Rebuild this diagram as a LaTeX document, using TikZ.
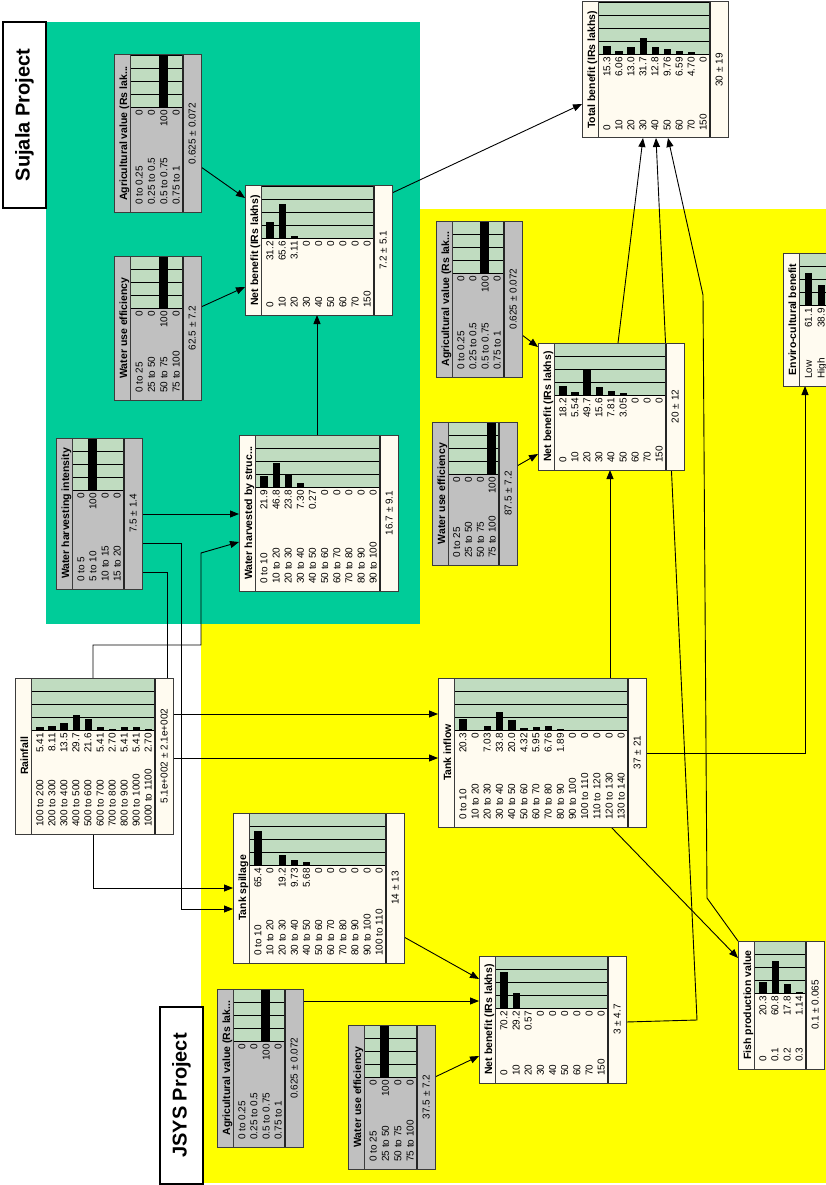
\documentclass[tikz,border=0pt]{standalone}
\usepackage{fontspec}
\setmainfont{Liberation Sans}
\usetikzlibrary{arrows.meta}
\definecolor{sujgreen}{RGB}{0,204,153}
\definecolor{jsyyellow}{RGB}{255,255,0}
\definecolor{nodecream}{RGB}{255,251,240}
\definecolor{nodegrey}{RGB}{192,192,192}
\definecolor{bargreen}{RGB}{192,220,192}
\definecolor{edgegrey}{RGB}{60,60,60}
\pgfdeclarelayer{backlayer}
\pgfdeclarelayer{linklayer}
\pgfsetlayers{backlayer,linklayer,main}
\newcount\nncnt
\tikzset{
  link/.style={line width=0.9pt, -{Triangle[length=9pt,width=7pt]}},
  ntitle/.style={font=\bfseries\fontsize{10.5}{12}\selectfont, inner sep=0pt, anchor=base},
  ntext/.style={font=\fontsize{10}{12}\selectfont, inner sep=0pt},
  projbox/.style={draw=black, line width=1.5pt, fill=white,
    font=\bfseries\fontsize{20}{24}\selectfont, rotate=90, inner sep=0pt},
}
% #1 name, #2 x0, #3 y0, #4 x1, #5 y1, #6 fill, #7 title, #8 states/probs, #9 mean
\newcommand\NN[9]{%
  \pgfmathsetmacro\nnW{#5-#3}%
  \pgfmathsetmacro\nnH{#4-#2}%
  \pgfmathsetmacro\nnub{\nnW-52}%
  \global\nncnt=0
  \foreach \s/\p in {#8}{\global\advance\nncnt by 1}%
  \pgfmathsetmacro\nnr{(\nnH-16.5-18-3)/\the\nncnt}%
  \def\nnbw{7.3}\def\nntmp{#6}\def\nngrey{nodegrey}\ifx\nntmp\nngrey\def\nnbw{9}\fi
  \node[minimum width={\nnH pt}, minimum height={\nnW pt}, inner sep=0pt, outer sep=0pt,
        anchor=north west] (#1) at (#2,#3) {};
  \begin{scope}[shift={(#2,#5)}, rotate=90, transform shape]
    \fill[#6] (0,0) rectangle (\nnW,\nnH);
    \fill[bargreen] (\nnub,16.5) rectangle (\nnW,\nnH-18);
    \foreach \k in {1,2,3}{\draw[line width=0.7pt] (\nnub+\k*13,16.5) -- (\nnub+\k*13,\nnH-18);}
    \foreach \s/\p [count=\i] in {#8}{%
      \pgfmathsetmacro\nne{16.5+\i*\nnr-0.3}%
      \ifdim\p pt>0pt
        \fill (\nnub,\nne+0.4-\nnbw) rectangle (\nnub+\p*0.52,\nne+0.4);
      \fi
      \node[ntext, anchor=base west] at (7,\nne) {\s};
      \node[ntext, anchor=base east] at (\nnub-3,\nne) {\p};
    }
    \draw[line width=0.8pt] (\nnub,16.5) rectangle (\nnW,\nnH-18);
    \draw[edgegrey, line width=0.8pt] (0,16.5) -- (\nnW,16.5);
    \draw[black!85, line width=1.6pt] (0,\nnH-18) -- (\nnW,\nnH-18);
    \node[ntitle] at (\nnW/2,13) {#7};
    \node[ntext, anchor=base] at (\nnW/2,\nnH-5.5) {#9};
    \draw[edgegrey, line width=1pt] (0,0) rectangle (\nnW,\nnH);
  \end{scope}
}
\begin{document}
\begin{tikzpicture}[x=1pt, y=-1pt]
\useasboundingbox (0,0) rectangle (826,1185);
\clip (0,0) rectangle (826,1185);
\begin{pgfonlayer}{backlayer}
  \fill[white] (0,0) rectangle (826,1185);
  \fill[jsyyellow] (201,209) rectangle (826,1183);
  \fill[sujgreen] (46,22) rectangle (420,624);
\end{pgfonlayer}

\node[projbox, minimum width=186pt, minimum height=43pt] (sujala) at (24.5,115) {Sujala Project};
\node[projbox, minimum width=177pt, minimum height=43pt] (jsys) at (181.5,1095.5) {JSYS Project};

\NN{agriS}{114}{55}{201}{212}{nodegrey}{Agricultural value (Rs lak...}
  {0 to 0.25/0, 0.25 to 0.5/0, 0.5 to 0.75/100, 0.75 to 1/0}{0.625 ± 0.072}
\NN{wueS}{114}{256}{201}{400}{nodegrey}{Water use efficiency}
  {0 to 25/0, 25 to 50/0, 50 to 75/100, 75 to 100/0}{62.5 ± 7.2}
\NN{whi}{56}{438}{142}{589}{nodegrey}{Water harvesting intensity}
  {0 to 5/0, 5 to 10/100, 10 to 15/0, 15 to 20/0}{7.5 ± 1.4}
\NN{whs}{239}{435}{398}{591}{nodecream}{Water harvested by struc...}
  {0 to 10/21.9, 10 to 20/46.8, 20 to 30/23.8, 30 to 40/7.30, 40 to 50/0.27, 50 to 60/0, 60 to 70/0, 70 to 80/0, 80 to 90/0, 90 to 100/0}{16.7 ± 9.1}
\NN{nbS}{245}{186}{392}{315}{nodecream}{Net benefit (IRs lakhs)}
  {0/31.2, 10/65.6, 20/3.11, 30/0, 40/0, 50/0, 60/0, 70/0, 150/0}{7.2 ± 5.1}
\NN{totb}{582}{2}{728}{138}{nodecream}{Total benefit (IRs lakhs)}
  {0/15.3, 10/6.06, 20/13.0, 30/31.7, 40/12.8, 50/9.76, 60/6.59, 70/4.70, 150/0}{30 ± 19}
\NN{agriM}{436}{221}{522}{377}{nodegrey}{Agricultural value (Rs lak...}
  {0 to 0.25/0, 0.25 to 0.5/0, 0.5 to 0.75/100, 0.75 to 1/0}{0.625 ± 0.072}
\NN{wueM}{432}{422}{517}{565}{nodegrey}{Water use efficiency}
  {0 to 25/0, 25 to 50/0, 50 to 75/0, 75 to 100/100}{87.5 ± 7.2}
\NN{nbM}{538}{343}{684}{470}{nodecream}{Net benefit (IRs lakhs)}
  {0/18.2, 10/5.54, 20/49.7, 30/15.6, 40/7.81, 50/3.05, 60/0, 70/0, 150/0}{20 ± 12}
\NN{env}{783}{253}{846}{386}{nodecream}{Enviro-cultural benefit}
  {Low/61.1, High/38.9}{}
\NN{rain}{15}{678}{173}{834}{nodecream}{Rainfall}
  {100 to 200/5.41, 200 to 300/8.11, 300 to 400/13.5, 400 to 500/29.7, 500 to 600/21.6, 600 to 700/5.41, 700 to 800/2.70, 800 to 900/5.41, 900 to 1000/5.41, 1000 to 1100/2.70}{5.1e+002 ± 2.1e+002}
\NN{tsp}{233}{813}{404}{963}{nodecream}{Tank spillage}
  {0 to 10/65.4, 10 to 20/0, 20 to 30/19.2, 30 to 40/9.73, 40 to 50/5.68, 50 to 60/0, 60 to 70/0, 70 to 80/0, 80 to 90/0, 90 to 100/0, 100 to 110/0}{14 ± 13}
\NN{tin}{438}{678}{646}{827}{nodecream}{Tank inflow}
  {0 to 10/20.3, 10 to 20/0, 20 to 30/7.03, 30 to 40/33.8, 40 to 50/20.0, 50 to 60/4.32, 60 to 70/5.95, 70 to 80/6.76, 80 to 90/1.89, 90 to 100/0, 100 to 110/0, 110 to 120/0, 120 to 130/0, 130 to 140/0}{37 ± 21}
\NN{nbJ}{479}{956}{626}{1083}{nodecream}{Net benefit (IRs lakhs)}
  {0/70.2, 10/29.2, 20/0.57, 30/0, 40/0, 50/0, 60/0, 70/0, 150/0}{3 ± 4.7}
\NN{agriJ}{217}{989}{303}{1147}{nodegrey}{Agricultural value (Rs lak...}
  {0 to 0.25/0, 0.25 to 0.5/0, 0.5 to 0.75/100, 0.75 to 1/0}{0.625 ± 0.072}
\NN{wueJ}{348}{1025}{435}{1169}{nodegrey}{Water use efficiency}
  {0 to 25/0, 25 to 50/100, 50 to 75/0, 75 to 100/0}{37.5 ± 7.2}
\NN{fish}{738}{941}{824}{1069}{nodecream}{Fish production value}
  {0/20.3, 0.1/60.8, 0.2/17.8, 0.3/1.14}{0.1 ± 0.065}

\begin{pgfonlayer}{linklayer}
  \draw[link] (agriS.east |- 0,167) -- (nbS.west |- 0,198);
  \draw[link] (wueS.east |- 0,307) -- (nbS.west |- 0,287);
  \draw[link] (317,0 |- whs.north) -- (317,0 |- nbS.south);
  \draw[link] (nbS.east |- 0,193) -- (totb.west |- 0,104);
  \draw[link] (whi.east |- 0,514) -- (whs.west |- 0,514);
  \draw[link] (whi.east |- 0,543) -| (181,909) -- (tsp.west |- 0,909);
  \draw[link] (whi.east |- 0,572) -| (167,758) -- (tin.west |- 0,758);
  \draw[link] (93,0 |- rain.north) |- (201,645) -- (201,553) -- (whs.west |- 0,542);
  \draw[link] (rain.east |- 0,714) -- (tin.west |- 0,714);
  \draw[link] (93,0 |- rain.south) |- (tsp.west |- 0,888);
  \draw[link] (tsp.east |- 0,937) -- (nbJ.west |- 0,979);
  \draw[link] (agriJ.east |- 0,1001) -- (nbJ.west |- 0,1001);
  \draw[link] (wueJ.east |- 0,1077) -- (nbJ.west |- 0,1056);
  \draw[link] (nbJ.east |- 0,1022) -- (697,1020) -- (656,0 |- totb.south);
  \draw[link] (618,0 |- nbM.north) -- (643,0 |- totb.south);
  \draw[link] (fish.north west) -- (707,898) -- (703,295) -- (668,0 |- totb.south);
  \draw[link] (610,0 |- tin.north) -- (610,0 |- nbM.south);
  \draw[link] (tin.east |- 0,753) -| (805,0 |- env.south);
  \draw[link] (611,0 |- tin.south) -- (fish.west |- 0,958);
  \draw[link] (agriM.east |- 0,335) -- (nbM.west |- 0,347);
  \draw[link] (wueM.east |- 0,466) -- (nbM.west |- 0,454);
\end{pgfonlayer}
\end{tikzpicture}
\end{document}
